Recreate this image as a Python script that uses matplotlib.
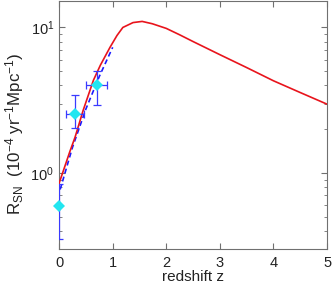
import matplotlib
matplotlib.use("Agg")
import matplotlib.pyplot as plt
import numpy as np

plt.rcParams['font.family'] = ['Liberation Sans', 'DejaVu Sans']
plt.rcParams['mathtext.fontset'] = 'custom'
plt.rcParams['mathtext.rm'] = 'Liberation Sans'
plt.rcParams['mathtext.it'] = 'Liberation Sans:italic'
plt.rcParams['mathtext.bf'] = 'Liberation Sans:bold'

# Model curve (red)
model_z = [0.0, 0.1, 0.2, 0.3, 0.45, 0.64, 0.77, 0.95, 1.08, 1.19, 1.38, 1.55,
           1.74, 2.0, 2.25, 2.5, 3.0, 3.5, 4.0, 4.5, 5.0]
model_r = [0.85, 1.09, 1.40, 1.77, 2.7, 4.33, 5.5, 7.3, 8.8, 10.0, 10.8, 11.0,
           10.6, 9.85, 8.9, 8.0, 6.5, 5.3, 4.3, 3.57, 2.97]

# Fit (blue dashed)
fit_z = [0.02, 0.25, 0.5, 0.75, 1.0]
fit_r = [0.77, 1.5, 2.75, 4.6, 7.3]

# Observations
obs_z = [0.0, 0.3, 0.7]
obs_r = [0.59, 2.54, 4.0]
obs_r_lo = [0.35, 2.03, 2.92]
obs_r_hi = [0.84, 3.42, 5.0]
obs_z_lo = [0.0, 0.13, 0.5]
obs_z_hi = [0.0, 0.46, 0.9]

fig = plt.figure(figsize=(3.32, 2.83), dpi=100)
ax = fig.add_axes([0.178, 0.120, 0.807, 0.878])

ax.plot(model_z, model_r, color='#e8141c', lw=1.2, zorder=3)
ax.plot(fit_z, fit_r, color='#1a1aff', lw=1.2, ls=(0, (3, 2)), zorder=2)

yerr = [np.array(obs_r) - np.array(obs_r_lo), np.array(obs_r_hi) - np.array(obs_r)]
xerr = [np.array(obs_z) - np.array(obs_z_lo), np.array(obs_z_hi) - np.array(obs_z)]
ax.errorbar(obs_z, obs_r, xerr=xerr, yerr=yerr, fmt='none', ecolor='#3a3aff',
            elinewidth=0.9, capsize=3, capthick=0.9, zorder=4)
ax.plot(obs_z, obs_r, 'D', color='#22e6f0', markersize=6.5, markeredgewidth=0,
        zorder=5, clip_on=False)

ax.set_yscale('log')
ax.set_xlim(0, 5)
ax.set_ylim(0.3, 15.3)
ax.set_xticks([0, 1, 2, 3, 4, 5])

frame_col = '#707070'
for s in ax.spines.values():
    s.set_color(frame_col)
    s.set_linewidth(0.8)
ax.tick_params(which='both', direction='in', top=True, right=True,
               colors=frame_col, labelcolor='#222222', labelsize=10.5)
ax.tick_params(which='major', length=4)
ax.tick_params(which='minor', length=2.2)
ax.tick_params(axis='x', pad=5)

ax.set_xlabel('redshift z', fontsize=11, color='#222222', labelpad=0)
ax.set_ylabel(r'R$_{\mathrm{SN}}$  (10$^{-4}$ yr$^{-1}$Mpc$^{-1}$)',
              fontsize=12.2, color='#222222')
ax.yaxis.set_label_coords(-0.125, 0.463)

fig.savefig('out.png', dpi=100)
